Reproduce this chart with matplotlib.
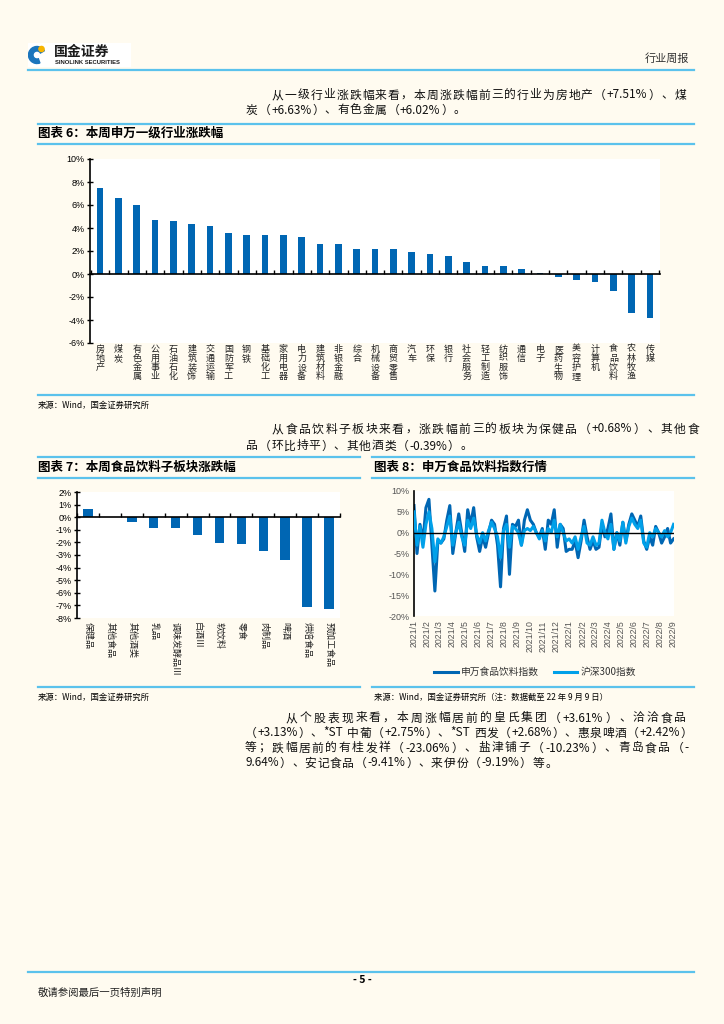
import re
import numpy as np
import pandas as pd
import matplotlib
matplotlib.use('Agg')
import matplotlib.pyplot as plt
import matplotlib.dates as mdates
from matplotlib.lines import Line2D
from matplotlib.patches import Rectangle, Circle, Wedge
from matplotlib.ticker import FuncFormatter
from matplotlib.transforms import blended_transform_factory

plt.rcParams['font.family'] = ['Noto Sans CJK SC', 'DejaVu Sans']
plt.rcParams['axes.unicode_minus'] = False

W, H = 724, 1024
BG = '#FFFBF0'
BLUE = '#0066B3'
LIGHT = '#00A0E9'
RULE = '#5BC2EC'
NUM = ['Liberation Sans', 'Noto Sans CJK SC']

# 图表6: 申万一级行业本周涨跌幅(%)
ind_names = ['房地产', '煤炭', '有色金属', '公用事业', '石油石化', '建筑装饰', '交通运输',
             '国防军工', '钢铁', '基础化工', '家用电器', '电力设备', '建筑材料', '非银金融',
             '综合', '机械设备', '商贸零售', '汽车', '环保', '银行', '社会服务', '轻工制造',
             '纺织服饰', '通信', '电子', '医药生物', '美容护理', '计算机', '食品饮料',
             '农林牧渔', '传媒']
ind_chg = [7.51, 6.63, 6.02, 4.66, 4.64, 4.31, 4.20, 3.53, 3.41, 3.38, 3.35, 3.18, 2.57,
           2.57, 2.19, 2.16, 2.16, 1.92, 1.75, 1.60, 1.05, 0.73, 0.70, 0.47, 0.12, -0.29,
           -0.52, -0.67, -1.52, -3.38, -3.85]

# 图表7: 食品饮料子板块涨跌幅(%)
sub_names = ['保健品', '其他食品', '其他酒类', '乳品', '调味发酵品Ⅲ', '白酒Ⅲ', '软饮料',
             '零食', '肉制品', '啤酒', '烘焙食品', '预加工食品']
sub_chg = [0.68, 0.0, -0.39, -0.83, -0.85, -1.41, -2.08, -2.16, -2.67, -3.39, -7.15, -7.31]

# 图表8: 周涨跌幅(%), 2021/1/1 起每周
sw_food = [6.5, -5, 2, -2, 6, 8, -3, -14, -2, -2.5, -1.5, 3, 6.5, -5, 0, 4.5, 0, -4.5,
           5.5, 2, 6, -1, -4.5, -1, -3.5, 0, 3, 2, -3, -13, 1, 4, -10, 2, 1.5, 3, -3, 3,
           5.5, 3, 2, 0, -1, 1, -4, 3, 2, 5.5, -3.5, 2, 1, -4.5, -4, -4, -2, -6, -2, 3,
           -1, -4, -2, -4, -3.5, 2, -1, 1, 4.5, -4, 0, -3, 2.5, -2, 2, 4.5, 3, 1.5, 4,
           -2, -4, -1, -3, 1.5, 0, -2.5, -1, 1, -2.5, -1.5]
hs300 = [5, -3, 1.5, -3.5, 2, 5, 1, -7, -1.5, -2.5, -1, 1.5, 4, -3, 0, 2.5, -1, -3, 3,
         1, 3.5, -0.5, -2.5, 0, -2, 0.5, 2.5, 1, -1, -6, 0.5, 2, -3.5, 1.5, 1, 0, -3,
         0.5, 1, 0.5, 1.5, 0, -1.5, 0.5, -2, 1, 0, 3, -1, 2, 0, -2, -1.5, -2.5, -1, -4,
         -1, 1.5, -2.5, -3, -1, -3, -2.5, 3, 0, -1.5, 2, -4, 0, -2, 2.5, -2.5, 1.5, 3.5,
         2, 1, 3, -2.5, -3.5, 0, -1, 1, 0, -1, 0.5, -1, 0, 2]
dates = pd.date_range(end='2022-09-02', periods=len(sw_food), freq='7D')

fig = plt.figure(figsize=(W / 100, H / 100), dpi=100, facecolor=BG)
renderer = fig.canvas.get_renderer()


def fx(x):
    return x / W


def fy(y):
    return 1 - y / H


def rect(x0, y0, x1, y1):
    return [fx(x0), fy(y1), (x1 - x0) / W, (y1 - y0) / H]


def rule(x0, x1, y, lw=1.6):
    fig.add_artist(Line2D([fx(x0), fx(x1)], [fy(y), fy(y)], color=RULE, lw=lw))


def txt(x, y, s, size=8, **kw):
    fig.text(fx(x), fy(y), s, va='center', fontsize=size, **kw)


def para(x0, y, s, x1=None, track=0.8, size=8.5):
    # 逐字排版, 给了 x1 就两端对齐
    toks = re.findall(r'[!-~]+|\s|.', s)
    items = [fig.text(0, fy(y), t, va='center', fontsize=size, color='#111111') for t in toks]
    ws = [3.0 if t == ' ' else it.get_window_extent(renderer).width for t, it in zip(toks, items)]
    gap = (x1 - x0 - sum(ws)) / (len(toks) - 1) if x1 else track
    x = x0
    for it, w in zip(items, ws):
        it.set_x(fx(x))
        x += w + gap


pct = FuncFormatter(lambda v, p: f'{v:.0f}%')

# ---- 页眉
lg = fig.add_axes(rect(28, 43, 131, 67))
lg.set_xlim(0, 103)
lg.set_ylim(24, 0)
lg.axis('off')
lg.add_patch(Rectangle((0, 0), 103, 24, color='white'))
lg.add_patch(Wedge((9, 12), 8.5, 70, 330, width=4.5, color='#1B75BC'))
lg.add_patch(Circle((13.5, 6), 2.6, color='#F7B500'))
lg.text(26, 9, '国金证券', fontsize=10, fontweight='bold', va='center', color='#1a1a1a')
lg.text(27, 19.5, 'SINOLINK SECURITIES', fontsize=4.2, fontweight='bold', va='center',
        color='#1a1a1a', family=NUM)
txt(645, 59, '行业周报', size=8, color='#333333')
rule(28, 694, 70)

# ---- 段落1
para(272, 95, '从一级行业涨跌幅来看，本周涨跌幅前三的行业为房地产（+7.51%）、煤', x1=686)
para(246, 110, '炭（+6.63%）、有色金属（+6.02%）。')

# ---- 图表6
rule(38, 694, 124)
txt(38, 133, '图表 6：本周申万一级行业涨跌幅', size=9, fontweight='bold')
rule(38, 694, 144)

ax1 = fig.add_axes(rect(90, 159, 660, 343))
ax1.set_facecolor('white')
x1 = np.arange(len(ind_names))
ax1.bar(x1, ind_chg, width=0.36, color=BLUE, zorder=2)
ax1.set_xlim(-0.55, len(x1) - 0.45)
ax1.set_ylim(-6, 10)
ax1.set_yticks(range(-6, 11, 2))
ax1.yaxis.set_major_formatter(pct)
ax1.spines['bottom'].set_position(('data', 0))
for s in ['top', 'right']:
    ax1.spines[s].set_visible(False)
for s in ['left', 'bottom']:
    ax1.spines[s].set_linewidth(1.2)
    ax1.spines[s].set_zorder(3)
ax1.set_xticks(np.arange(len(x1) + 1) - 0.5)
ax1.set_xticklabels([])
ax1.tick_params(axis='x', direction='in', length=3, width=1)
ax1.tick_params(axis='y', direction='inout', length=4, width=1, labelsize=6.5, pad=2)
for lab in ax1.get_yticklabels():
    lab.set_family(NUM)
tr1 = blended_transform_factory(ax1.transData, ax1.transAxes)
for i, name in enumerate(ind_names):
    ax1.text(i, -0.01, '\n'.join(name), transform=tr1, ha='center', va='top',
             fontsize=6.5, linespacing=1.0, color='#222222')

rule(38, 694, 395)
txt(38, 405, '来源：Wind，国金证券研究所', size=6)

# ---- 段落2
para(272, 429, '从食品饮料子板块来看，涨跌幅前三的板块为保健品（+0.68%）、其他食', x1=699)
para(246, 446, '品（环比持平）、其他酒类（-0.39%）。')

# ---- 图表7
rule(38, 360, 457)
txt(38, 467, '图表 7：本周食品饮料子板块涨跌幅', size=9, fontweight='bold')
rule(38, 360, 478)

ax2 = fig.add_axes(rect(77, 492, 340, 618))
ax2.set_facecolor('white')
x2 = np.arange(len(sub_names))
ax2.bar(x2, sub_chg, width=0.43, color=BLUE, zorder=2)
ax2.set_xlim(-0.5, len(x2) - 0.5)
ax2.set_ylim(-8, 2)
ax2.set_yticks(range(-8, 3, 1))
ax2.yaxis.set_major_formatter(pct)
ax2.spines['bottom'].set_position(('data', 0))
for s in ['top', 'right']:
    ax2.spines[s].set_visible(False)
for s in ['left', 'bottom']:
    ax2.spines[s].set_linewidth(1.2)
    ax2.spines[s].set_zorder(3)
ax2.set_xticks(np.arange(len(x2) + 1) - 0.5)
ax2.set_xticklabels([])
ax2.tick_params(axis='x', direction='in', length=3, width=1)
ax2.tick_params(axis='y', direction='inout', length=4, width=1, labelsize=6.5, pad=2)
for lab in ax2.get_yticklabels():
    lab.set_family(NUM)
tr2 = blended_transform_factory(ax2.transData, ax2.transAxes)
for i, name in enumerate(sub_names):
    ax2.text(i, -0.035, name, transform=tr2, ha='center', va='top', rotation=270,
             fontsize=6.5, color='#222222')

rule(38, 360, 687)
txt(38, 697, '来源：Wind，国金证券研究所', size=6)

# ---- 图表8
rule(372, 694, 457)
txt(374, 467, '图表 8：申万食品饮料指数行情', size=9, fontweight='bold')
rule(372, 694, 478)

ax3 = fig.add_axes(rect(414, 491, 674, 616))
ax3.set_facecolor('white')
l1, = ax3.plot(dates, sw_food, color=BLUE, lw=2.2, zorder=2, label='申万食品饮料指数')
l2, = ax3.plot(dates, hs300, color=LIGHT, lw=2.2, zorder=3, label='沪深300指数')
ax3.axhline(0, color='black', lw=1, zorder=4)
ax3.set_xlim(pd.Timestamp('2021-01-01'), pd.Timestamp('2022-09-03'))
ax3.set_ylim(-20, 10)
ax3.set_yticks(range(-20, 11, 5))
ax3.yaxis.set_major_formatter(pct)
ax3.xaxis.set_major_locator(mdates.MonthLocator())
ax3.xaxis.set_major_formatter(FuncFormatter(
    lambda v, p: f'{mdates.num2date(v).year}/{mdates.num2date(v).month}'))
for s in ['top', 'right', 'bottom']:
    ax3.spines[s].set_visible(False)
ax3.spines['left'].set_linewidth(1.2)
ax3.tick_params(axis='x', length=0, labelsize=6.3, labelrotation=90, pad=3,
                labelcolor='#555555')
ax3.tick_params(axis='y', length=0, labelsize=6.5, pad=3, labelcolor='#555555')
for lab in ax3.get_xticklabels() + ax3.get_yticklabels():
    lab.set_family(NUM)
fig.legend(handles=[l1, l2], loc='center', bbox_to_anchor=(fx(535), fy(672)), ncol=2,
           frameon=False, fontsize=7, handlelength=2.4, handletextpad=0.3,
           columnspacing=1.6, labelcolor='#333333')

rule(372, 694, 687)
txt(374, 697, '来源：Wind，国金证券研究所（注：数据截至 22 年 9 月 9 日）', size=6)

# ---- 段落3
para(286, 718, '从个股表现来看，本周涨幅居前的皇氏集团（+3.61%）、洽洽食品', x1=686)
para(245, 733, '（+3.13%）、*ST 中葡（+2.75%）、*ST 西发（+2.68%）、惠泉啤酒（+2.42%）', x1=692)
para(245, 748, '等；跌幅居前的有桂发祥（-23.06%）、盐津铺子（-10.23%）、青岛食品（-', x1=689)
para(245, 763, '9.64%）、安记食品（-9.41%）、来伊份（-9.19%）等。')

# ---- 页脚
rule(28, 694, 972)
txt(362, 980, '- 5 -', size=7.5, ha='center', fontweight='bold')
txt(38, 993, '敬请参阅最后一页特别声明', size=7.5, color='#222222')

fig.savefig('out.png', dpi=100, facecolor=BG)
